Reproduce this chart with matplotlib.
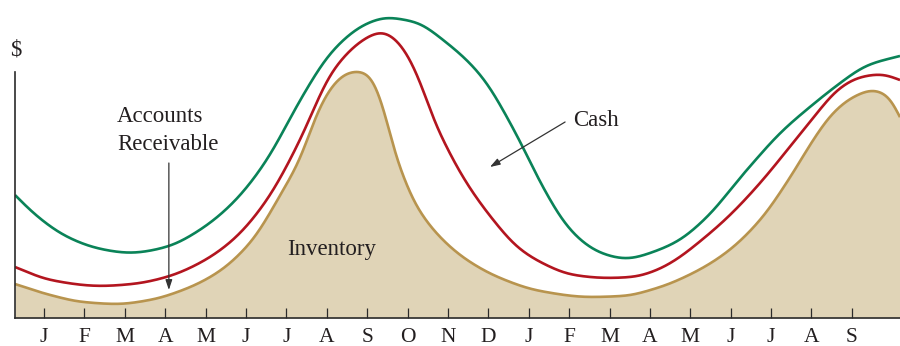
import numpy as np
import matplotlib
matplotlib.use("Agg")
import matplotlib.pyplot as plt

plt.rcParams['font.family'] = ['Liberation Serif', 'DejaVu Serif']

# Month tick labels (two seasonal cycles)
months = ["J", "F", "M", "A", "M", "J", "J", "A", "S", "O", "N", "D",
          "J", "F", "M", "A", "M", "J", "J", "A", "S"]

# Cash (total current assets) – month position, dollar level
cash_x = [0.28, 0.73, 1.57, 2.39, 3.13, 4.04, 4.86, 5.68, 6.52, 7.34, 8.15,
          9.00, 9.52, 9.81, 10.23, 10.88, 11.47, 11.97, 12.46, 12.86, 13.21,
          13.53, 13.77, 14.27, 14.77, 15.43, 16.08, 16.75, 17.07, 17.74,
          17.98, 18.55, 19.22, 19.96, 20.71, 21.38, 22.19]
cash_y = [123, 105, 81, 69, 65, 71, 88, 115, 158, 218, 268,
          295, 301, 299, 296, 278, 258, 235, 201, 171, 141,
          118, 101, 78, 65, 59, 66, 78, 88, 115,
          128, 155, 185, 211, 235, 253, 262]

# Accounts receivable
ar_x = [0.28, 1.15, 2.39, 3.20, 4.04, 4.86, 5.68, 6.52, 7.34, 8.15, 9.00,
        9.37, 9.81, 10.23, 10.48, 10.63, 10.88, 11.22, 11.62, 12.12, 12.71,
        13.28, 14.10, 14.94, 15.58, 16.18, 16.75, 17.07, 17.91, 18.73,
        19.54, 20.14, 20.63, 21.20, 21.75, 22.19]
ar_y = [51, 38, 32, 34, 41, 55, 78, 118, 178, 248, 281,
        287, 275, 245, 218, 198, 178, 151, 125, 98, 71,
        56, 43, 40, 41, 48, 61, 71, 100, 135,
        175, 205, 228, 241, 244, 238]

# Inventory
inv_x = [0.28, 1.15, 1.96, 2.81, 3.62, 4.44, 5.28, 6.10, 6.92, 7.34, 7.76,
         8.15, 8.50, 8.77, 9.07, 9.24, 9.32, 9.44, 9.57, 9.69, 9.81, 9.99,
         10.23, 10.80, 11.47, 12.29, 13.28, 14.52, 15.33, 16.18, 17.07,
         17.91, 18.73, 19.54, 20.04, 20.53, 21.03, 21.52, 21.94, 22.19]
inv_y = [34, 23, 16, 14, 18, 28, 45, 75, 128, 159, 205,
         233, 245, 247, 243, 231, 221, 205, 185, 161, 151, 131,
         111, 81, 58, 40, 27, 21, 22, 30, 45,
         66, 98, 145, 178, 205, 221, 228, 221, 201]


def pchip(x, y, xn):
    """Shape-preserving piecewise cubic Hermite interpolation."""
    x = np.asarray(x, float)
    y = np.asarray(y, float)
    h = np.diff(x)
    d = np.diff(y) / h
    n = len(x)
    m = np.zeros(n)
    for k in range(1, n - 1):
        if d[k - 1] * d[k] > 0:
            w1 = 2 * h[k] + h[k - 1]
            w2 = h[k] + 2 * h[k - 1]
            m[k] = (w1 + w2) / (w1 / d[k - 1] + w2 / d[k])
    m[0] = d[0]
    m[-1] = d[-1]
    idx = np.clip(np.searchsorted(x, xn) - 1, 0, n - 2)
    t = (xn - x[idx]) / h[idx]
    h00 = 2 * t**3 - 3 * t**2 + 1
    h10 = t**3 - 2 * t**2 + t
    h01 = -2 * t**3 + 3 * t**2
    h11 = t**3 - t**2
    return (h00 * y[idx] + h10 * h[idx] * m[idx]
            + h01 * y[idx + 1] + h11 * h[idx] * m[idx + 1])


def smooth_curve(x, y, xn, sigma):
    """Interpolate, then soften the joins with a Gaussian kernel."""
    yn = pchip(x, y, xn)
    dx = xn[1] - xn[0]
    half = int(4 * sigma / dx)
    k = np.exp(-0.5 * (np.arange(-half, half + 1) * dx / sigma) ** 2)
    k /= k.sum()
    padded = np.pad(yn, half, mode='reflect', reflect_type='odd')
    return np.convolve(padded, k, mode='valid')


GREEN = '#0a8358'
RED = '#b3151f'
TAN_LINE = '#b8944e'
TAN_FILL = '#e0d4b7'
INK = '#231f20'
LABEL_SIZE = 16.5

fig = plt.figure(figsize=(9, 3.46), dpi=100)
ax = fig.add_axes([15 / 900, 28 / 346, 885 / 900, 318 / 346])

x0, x1 = 0.2805, 22.192
xx = np.linspace(x0, x1, 1800)
inv = smooth_curve(inv_x, inv_y, xx, 0.16)
ar = smooth_curve(ar_x, ar_y, xx, 0.2)
cash = smooth_curve(cash_x, cash_y, xx, 0.22)

ax.fill_between(xx, 0, inv, color=TAN_FILL, lw=0, zorder=1)
ax.plot(xx, inv, color=TAN_LINE, lw=1.9, zorder=2, solid_capstyle='butt')
ax.plot(xx, ar, color=RED, lw=1.9, zorder=3, solid_capstyle='butt')
ax.plot(xx, cash, color=GREEN, lw=1.9, zorder=3, solid_capstyle='butt')

ax.set_xlim(x0, x1)
ax.set_ylim(0, 318)

for s in ['top', 'right']:
    ax.spines[s].set_visible(False)
ax.spines['left'].set_bounds(0, 246)
for s in ['left', 'bottom']:
    ax.spines[s].set_color('#2b2b2b')
    ax.spines[s].set_linewidth(1.2)
    ax.spines[s].set_zorder(4)

ax.set_yticks([])
ax.set_xticks(np.arange(1, len(months) + 1))
ax.set_xticklabels(months)
ax.tick_params(axis='x', direction='in', length=7.5, width=0.9,
               color='#2b2b2b', pad=7, labelsize=15.5, labelcolor=INK)

# Axis label
ax.text(0.30, 268, "$", fontsize=LABEL_SIZE, color=INK, ha='center',
        va='center', clip_on=False)

# Annotations
ax.text(2.81, 196, "Accounts", fontsize=LABEL_SIZE, color=INK, ha='left',
        va='baseline')
ax.text(2.81, 168, "Receivable", fontsize=LABEL_SIZE, color=INK, ha='left',
        va='baseline')
ax.annotate("", xy=(4.09, 28), xytext=(4.09, 155),
            arrowprops=dict(arrowstyle='-|>,head_length=0.6,head_width=0.2',
                            color='#333333', lw=0.9, shrinkA=0, shrinkB=0),
            zorder=5)

ax.text(14.10, 192, "Cash", fontsize=LABEL_SIZE, color=INK, ha='left',
        va='baseline')
ax.annotate("", xy=(12.04, 151), xytext=(13.90, 196),
            arrowprops=dict(arrowstyle='-|>,head_length=0.6,head_width=0.2',
                            color='#333333', lw=0.9, shrinkA=0, shrinkB=0),
            zorder=5)

ax.text(8.13, 63, "Inventory", fontsize=LABEL_SIZE, color=INK, ha='center',
        va='baseline', zorder=5)

fig.savefig("out.png", dpi=100)
